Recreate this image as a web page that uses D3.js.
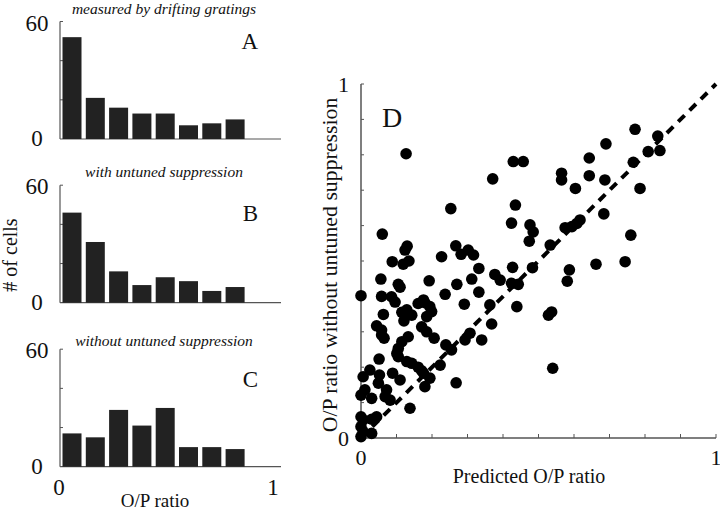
<!DOCTYPE html>
<html><head><meta charset="utf-8">
<script src="https://cdn.jsdelivr.net/npm/d3@7/dist/d3.min.js"></script>
<style>body{margin:0;background:#fff}svg{display:block}text{font-family:"Liberation Serif","Times New Roman",serif;fill:#111}</style>
</head><body><svg id="c" width="720" height="510"></svg>
<script>
// ---- data ----
const bins = [0, 0.1, 0.2, 0.3, 0.4, 0.5, 0.6, 0.7];
const countsA = [52, 21, 16, 13, 13, 7, 8, 10];
const countsB = [46, 31, 16, 9, 13, 11, 6, 8];
const countsC = [17, 15, 29, 21, 30, 10, 10, 9];
const panelTitles = ["measured by drifting gratings", "with untuned suppression", "without untuned suppression"];
const panelLetters = ["A", "B", "C"];
const histTicks = [0, 60];
const histMinor = [20, 40];
const xTickLabels = [0, 1];

const predicted = [0.127,0.772,0.836,0.809,0.842,0.690,0.643,0.767,0.643,0.687,0.786,0.429,0.457,0.371,0.565,0.565,0.604,0.435,0.253,0.684,
0.424,0.476,0.485,0.474,0.575,0.594,0.608,0.617,0.760,0.533,0.060,0.130,0.124,0.088,0.119,0.135,0.227,0.267,0.282,0.302,
0.317,0.332,0.427,0.483,0.662,0.744,0.587,0.581,0.056,0.105,0.110,0.192,0.270,0.312,0.377,0.392,0.424,0.443,0.237,0.332,
0.000,0.058,0.086,0.096,0.176,0.291,0.363,0.439,0.063,0.115,0.129,0.143,0.121,0.161,0.180,0.194,0.199,0.185,0.528,0.537,
0.368,0.044,0.058,0.065,0.058,0.171,0.185,0.206,0.307,0.293,0.340,0.239,0.255,0.115,0.133,0.105,0.101,0.105,0.129,0.143,
0.161,0.171,0.176,0.051,0.223,0.540,0.025,0.006,0.052,0.049,0.072,0.068,0.082,0.089,0.110,0.194,0.180,0.268,0.011,0.000,
0.030,0.138,0.000,0.006,0.044,0.030,0.000,0.030,0.000,0.006];
const observed = [0.803,0.872,0.853,0.809,0.812,0.831,0.791,0.779,0.741,0.729,0.705,0.781,0.781,0.732,0.748,0.729,0.705,0.658,0.648,0.633,
0.607,0.602,0.582,0.556,0.594,0.597,0.606,0.616,0.573,0.545,0.576,0.542,0.531,0.498,0.491,0.500,0.512,0.543,0.519,0.531,
0.517,0.479,0.482,0.481,0.491,0.498,0.475,0.443,0.449,0.434,0.426,0.444,0.434,0.449,0.462,0.446,0.437,0.434,0.406,0.412,
0.402,0.400,0.399,0.384,0.390,0.378,0.376,0.371,0.349,0.355,0.362,0.347,0.331,0.380,0.382,0.371,0.357,0.343,0.347,0.356,
0.322,0.317,0.305,0.282,0.291,0.314,0.300,0.282,0.296,0.277,0.277,0.263,0.249,0.272,0.286,0.253,0.239,0.230,0.216,0.211,
0.200,0.190,0.183,0.223,0.206,0.197,0.192,0.173,0.178,0.155,0.136,0.117,0.107,0.183,0.164,0.169,0.145,0.156,0.136,0.121,
0.112,0.084,0.060,0.051,0.060,0.053,0.032,0.013,0.004,0.018];
const scatterTicks = d3.range(0, 1.0001, 0.1);

// ---- drawing ----
const svg = d3.select("#c");
const axisCol = "#555";

// Histograms
const xBin = d3.scaleLinear().domain([0, 1]).range([61, 294]);
const xLab = d3.scaleLinear().domain([0, 1]).range([59, 273]);
const zeroYs = [139, 302.7, 466.7];
const allCounts = [countsA, countsB, countsC];
const titleYs = [14, 177, 346];
const letterYs = [49, 221, 387];

allCounts.forEach((counts, p) => {
  const y = d3.scaleLinear().domain([0, 60]).range([zeroYs[p], zeroYs[p] - 117.5]);
  const g = svg.append("g");
  g.append("line").attr("x1", 60).attr("x2", 60).attr("y1", y(0)).attr("y2", y(60)).attr("stroke", axisCol).attr("stroke-width", 1.2);
  g.append("line").attr("x1", 60).attr("x2", 281).attr("y1", y(0)).attr("y2", y(0)).attr("stroke", axisCol).attr("stroke-width", 1.2);
  g.selectAll(".mt").data(histMinor.concat([60])).join("line")
    .attr("x1", 60).attr("x2", 63).attr("y1", d => y(d)).attr("y2", d => y(d)).attr("stroke", axisCol);
  g.selectAll(".bar").data(bins).join("rect")
    .attr("x", d => xBin(d) + 1.5)
    .attr("width", xBin(0.1) - xBin(0) - 4.3)
    .attr("y", (d, i) => y(counts[i]))
    .attr("height", (d, i) => y(0) - y(counts[i]))
    .attr("fill", "#222");
  g.selectAll(".tl").data(histTicks).join("text")
    .attr("x", 37).attr("y", d => y(d) + (d === 60 ? 9 : 7))
    .attr("text-anchor", "middle").attr("font-size", 23).text(d => d);
  g.append("text").attr("x", 164).attr("y", titleYs[p]).attr("text-anchor", "middle")
    .attr("font-size", 15.5).attr("font-style", "italic").text(panelTitles[p]);
  g.append("text").attr("x", 258).attr("y", letterYs[p]).attr("text-anchor", "end")
    .attr("font-size", 23).text(panelLetters[p]);
});
svg.selectAll(".xl").data(xTickLabels).join("text")
  .attr("x", d => xLab(d)).attr("y", 495).attr("text-anchor", "middle").attr("font-size", 23).text(d => d);
svg.append("text").attr("x", 155).attr("y", 507).attr("text-anchor", "middle").attr("font-size", 19).text("O/P ratio");
svg.append("text").attr("transform", "translate(17,255) rotate(-90)").attr("text-anchor", "middle")
  .attr("font-size", 20).text("# of cells");

// Scatter
const xs = d3.scaleLinear().domain([0, 1]).range([361, 716]);
const ys = d3.scaleLinear().domain([0, 1]).range([438, 84]);
const sg = svg.append("g");
sg.append("line").attr("x1", xs(0)).attr("x2", xs(0)).attr("y1", ys(0)).attr("y2", ys(1)).attr("stroke", axisCol).attr("stroke-width", 1.5);
sg.append("line").attr("x1", xs(0)).attr("x2", xs(1)).attr("y1", ys(0)).attr("y2", ys(0)).attr("stroke", axisCol).attr("stroke-width", 1.5);
sg.selectAll(".yt").data(scatterTicks.slice(1)).join("line")
  .attr("x1", xs(0)).attr("x2", xs(0) + 3).attr("y1", d => ys(d)).attr("y2", d => ys(d)).attr("stroke", axisCol);
sg.selectAll(".xt").data(scatterTicks.slice(1)).join("line")
  .attr("x1", d => xs(d)).attr("x2", d => xs(d)).attr("y1", ys(0)).attr("y2", ys(0) - 4).attr("stroke", axisCol);
sg.append("line").attr("x1", xs(0)).attr("y1", ys(0)).attr("x2", xs(1)).attr("y2", ys(1))
  .attr("stroke", "#000").attr("stroke-width", 4).attr("stroke-dasharray", "9,7");
sg.selectAll("circle").data(predicted).join("circle")
  .attr("cx", d => xs(d)).attr("cy", (d, i) => ys(observed[i])).attr("r", 5.8).attr("fill", "#000");
sg.selectAll(".sy").data(xTickLabels).join("text")
  .attr("x", 349).attr("y", d => ys(d) + 8).attr("text-anchor", "end").attr("font-size", 22).text(d => d);
sg.selectAll(".sx").data(xTickLabels).join("text")
  .attr("x", d => xs(d)).attr("y", 465).attr("text-anchor", "middle").attr("font-size", 22).text(d => d);
sg.append("text").attr("x", 529).attr("y", 483).attr("text-anchor", "middle").attr("font-size", 20).text("Predicted O/P ratio");
sg.append("text").attr("transform", "translate(337,265) rotate(-90)").attr("text-anchor", "middle")
  .attr("font-size", 21.8).text("O/P ratio without untuned suppression");
sg.append("text").attr("x", 382).attr("y", 127).attr("font-size", 28).text("D");
</script></body></html>
